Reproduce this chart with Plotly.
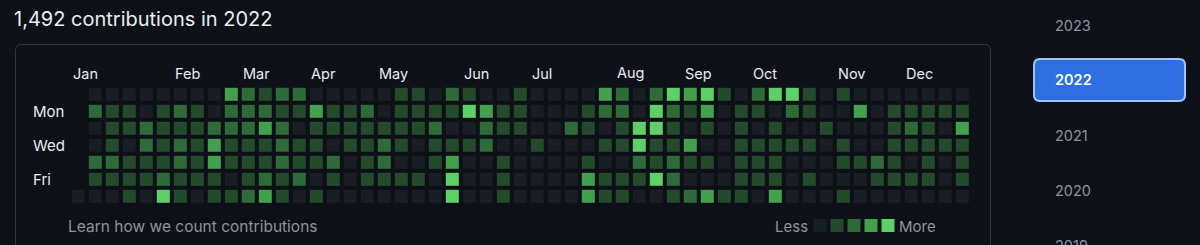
import plotly.graph_objects as go

# ---------------- data ----------------
title_text = "1,492 contributions in 2022"
footer_text = "Learn how we count contributions"
month_names = ["Jan", "Feb", "Mar", "Apr", "May", "Jun", "Jul", "Aug", "Sep", "Oct", "Nov", "Dec"]
month_weeks = [0, 6, 10, 14, 18, 23, 27, 32, 36, 40, 45, 49]
day_names = ["Mon", "Wed", "Fri"]
day_rows = [1, 3, 5]
level_colors = ["#191d24", "#234a2b", "#2f6a39", "#43a04d", "#5fd067"]
legend_levels = [0, 1, 2, 3, 4]
years = ["2023", "2022", "2021", "2020", "2019"]
selected_year = "2022"

# contribution level (0-4) per week column, one list per weekday (None = outside year)
sun = [None, 0,0,0,0,0,0,0,0,3,2, 1,2,2,0,0,0,0,0,1,1, 0,2,1,0,0,1,0,0,0,0, 3,2,0,2,4,3,4,1,0,2, 4,4,1,0,1,0,0,0,0,0, 0,0]
mon = [None, 2,1,1,0,1,2,1,0,2,2, 2,1,1,3,1,1,2,0,1,1, 1,1,4,3,1,1,0,0,0,1, 2,2,0,4,2,1,3,0,1,1, 0,2,1,0,0,3,0,1,1,1, 1,1]
tue = [None, 0,1,1,2,1,1,1,2,2,2, 3,2,0,1,1,1,1,1,1,1, 2,0,0,2,1,1,0,0,2,1, 0,1,4,4,1,0,1,0,1,0, 1,0,0,1,0,0,0,1,2,1, 0,3]
wed = [None, 0,1,0,2,1,2,1,3,1,1, 1,2,1,1,0,1,1,2,1,0, 1,1,1,2,0,0,1,0,0,0, 1,1,4,1,1,3,0,0,1,1, 1,1,1,0,1,0,0,1,1,1, 1,1]
thu = [None, 2,2,1,1,1,2,1,3,1,1, 1,2,1,1,2,0,1,2,0,0, 1,3,0,0,1,0,0,0,0,1, 0,0,2,1,2,1,1,0,1,1, 1,0,0,0,1,1,2,1,0,1, 0,1]
fri = [None, 1,1,1,1,2,1,1,1,0,1, 2,1,2,0,1,0,1,1,1,1, 0,4,0,0,1,0,0,0,0,3, 1,1,1,4,2,0,0,0,1,1, 1,0,1,0,0,0,1,1,1,1, 0,1]
sat = [0, 0,0,1,0,4,1,0,1,1,2, 3,1,0,1,0,0,0,0,0,0, 0,4,0,0,1,0,0,0,0,3, 1,1,0,0,1,2,3,1,1,0, 3,0,0,0,1,0,0,0,0,0, 0,0]
week_rows = [sun, mon, tue, wed, thu, fri, sat]

# ---------------- layout geometry ----------------
W, H = 1200, 245
PITCH = 17.0
X0_PX = 78.3   # pixel centre of week column 0
Y0_PX = 94.3   # pixel centre of Sunday row
CELL = 13

FONT = "Inter, Roboto, 'Noto Sans', sans-serif"
TXT = "#e6edf3"
MUTED = "#8b949e"


def px(x):
    return x / W


def py(y):
    return 1 - y / H


def rrect(x0, y0, x1, y1, r):
    a, b, c, d = px(x0), px(x1), py(y0), py(y1)
    rx, ry = r / W, r / H
    return (f"M {a+rx},{c} L {b-rx},{c} Q {b},{c} {b},{c-ry} L {b},{d+ry} Q {b},{d} {b-rx},{d} "
            f"L {a+rx},{d} Q {a},{d} {a},{d+ry} L {a},{c-ry} Q {a},{c} {a+rx},{c} Z")


fig = go.Figure()

for lvl in range(5):
    xs, ys = [], []
    for r, row in enumerate(week_rows):
        for w, v in enumerate(row):
            if v == lvl:
                xs.append(w)
                ys.append(r)
    fig.add_trace(go.Scatter(
        x=xs, y=ys, mode="markers", hoverinfo="skip", showlegend=False,
        marker=dict(symbol="square", size=CELL, color=level_colors[lvl], line=dict(width=0)),
    ))

# legend swatches (Less ... More)
leg_x0 = (820 - X0_PX) / PITCH
leg_y = (225.5 - Y0_PX) / PITCH
fig.add_trace(go.Scatter(
    x=[leg_x0 + i for i in legend_levels], y=[leg_y] * len(legend_levels),
    mode="markers", hoverinfo="skip", showlegend=False,
    marker=dict(symbol="square", size=CELL, color=[level_colors[i] for i in legend_levels], line=dict(width=0)),
))

annotations = []
annotations.append(dict(text=title_text, x=px(12), y=py(19), xref="paper", yref="paper",
                        xanchor="left", yanchor="middle", showarrow=False,
                        font=dict(family=FONT, size=20, color=TXT)))
month_y = (73 - Y0_PX) / PITCH
for name, wk in zip(month_names, month_weeks):
    annotations.append(dict(text=name, x=wk - 0.45, y=month_y, xref="x", yref="y",
                            xanchor="left", yanchor="middle", showarrow=False,
                            font=dict(family=FONT, size=14.5, color=TXT)))
for name, r in zip(day_names, day_rows):
    annotations.append(dict(text=name, x=px(31), y=r, xref="paper", yref="y",
                            xanchor="left", yanchor="middle", showarrow=False,
                            font=dict(family=FONT, size=15, color=TXT)))
annotations.append(dict(text=footer_text, x=px(66), y=py(226), xref="paper", yref="paper",
                        xanchor="left", yanchor="middle", showarrow=False,
                        font=dict(family=FONT, size=15.5, color=MUTED)))
annotations.append(dict(text="Less", x=px(810), y=py(226), xref="paper", yref="paper",
                        xanchor="right", yanchor="middle", showarrow=False,
                        font=dict(family=FONT, size=15, color=MUTED)))
annotations.append(dict(text="More", x=px(897), y=py(226), xref="paper", yref="paper",
                        xanchor="left", yanchor="middle", showarrow=False,
                        font=dict(family=FONT, size=15, color=MUTED)))
for i, yr in enumerate(years):
    sel = yr == selected_year
    annotations.append(dict(text=yr, x=px(1053), y=py(25 + 55 * i), xref="paper", yref="paper",
                            xanchor="left", yanchor="middle", showarrow=False,
                            font=dict(family=FONT, size=14.5, color="#ffffff" if sel else MUTED,
                                      weight=600 if sel else 400)))

shapes = [
    dict(type="path", xref="paper", yref="paper", path=rrect(15.5, 44.5, 990.5, 280, 6),
         line=dict(color="#30363d", width=1), fillcolor="rgba(0,0,0,0)", layer="below"),
]
sel_i = years.index(selected_year)
cy = 25 + 55 * sel_i
shapes.append(dict(type="path", xref="paper", yref="paper", path=rrect(1034, cy - 21, 1185, cy + 21, 6),
                   line=dict(color="#9ec5fe", width=2), fillcolor="#2f6fe0", layer="below"))

fig.update_layout(
    width=W, height=H, margin=dict(l=0, r=0, t=0, b=0),
    paper_bgcolor="#0d1117", plot_bgcolor="#0d1117",
    xaxis=dict(range=[-X0_PX / PITCH, (W - X0_PX) / PITCH], visible=False, fixedrange=True, domain=[0, 1]),
    yaxis=dict(range=[(H - Y0_PX) / PITCH, -Y0_PX / PITCH], visible=False, fixedrange=True, domain=[0, 1]),
    annotations=annotations, shapes=shapes,
)

fig.write_html("out.html", config={"displayModeBar": False})
